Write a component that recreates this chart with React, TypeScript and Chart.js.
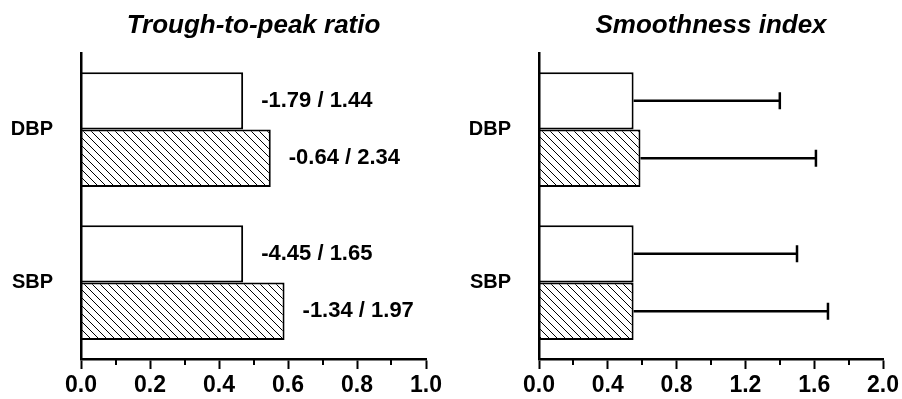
import React, { useEffect, useRef } from "react";
import { Chart, registerables } from "chart.js";

Chart.register(...registerables);

// ---------- data ----------
const categories = ["DBP", "SBP"];

const ratioTitle = "Trough-to-peak ratio";
const ratioOpen = [0.47, 0.47];
const ratioHatched = [0.55, 0.59];
const ratioLabelsOpen = ["-1.79 / 1.44", "-4.45 / 1.65"];
const ratioLabelsHatched = ["-0.64 / 2.34", "-1.34 / 1.97"];
const ratioMax = 1.0;
const ratioStep = 0.2;

const smoothTitle = "Smoothness index";
const smoothOpen = [0.55, 0.55];
const smoothHatched = [0.59, 0.55];
const smoothErrOpen = [1.4, 1.5];
const smoothErrHatched = [1.61, 1.68];
const smoothMax = 2.0;
const smoothStep = 0.4;

// ---------- styling ----------
const FONT = "'Liberation Sans', Arial, Helvetica, sans-serif";

function makeHatch(): CanvasPattern | string {
  const c = document.createElement("canvas");
  c.width = 8;
  c.height = 8;
  const g = c.getContext("2d");
  if (!g) return "#888";
  g.fillStyle = "#fff";
  g.fillRect(0, 0, 8, 8);
  g.strokeStyle = "#000";
  g.lineWidth = 1;
  g.beginPath();
  g.moveTo(0, 0);
  g.lineTo(8, 8);
  g.moveTo(-1, 7);
  g.lineTo(1, 9);
  g.moveTo(7, -1);
  g.lineTo(9, 1);
  g.stroke();
  return g.createPattern(c, "repeat") || "#888";
}

const panelTitle = {
  id: "panelTitle",
  afterDraw(chart: any, _a: any, opts: any) {
    const { ctx, chartArea } = chart;
    ctx.save();
    ctx.font = `italic bold 26px ${FONT}`;
    ctx.fillStyle = "#000";
    ctx.textAlign = "center";
    ctx.textBaseline = "alphabetic";
    ctx.fillText(opts.text, (chartArea.left + chartArea.right) / 2, 33);
    ctx.restore();
  },
};

const minorTicks = {
  id: "minorTicks",
  afterDraw(chart: any, _a: any, opts: any) {
    const s = chart.scales.x;
    const ctx = chart.ctx;
    ctx.save();
    ctx.strokeStyle = "#000";
    ctx.lineWidth = 2;
    for (let v = s.min + opts.step; v < s.max; v += opts.step * 2) {
      const x = Math.round(s.getPixelForValue(v));
      ctx.beginPath();
      ctx.moveTo(x, s.top);
      ctx.lineTo(x, s.top + 6);
      ctx.stroke();
    }
    ctx.restore();
  },
};

const valueLabels = {
  id: "valueLabels",
  afterDatasetsDraw(chart: any, _a: any, opts: any) {
    if (!opts.labels) return;
    const ctx = chart.ctx;
    ctx.save();
    ctx.font = `bold 22px ${FONT}`;
    ctx.fillStyle = "#000";
    ctx.textAlign = "left";
    ctx.textBaseline = "middle";
    chart.data.datasets.forEach((_ds: any, di: number) => {
      const meta = chart.getDatasetMeta(di);
      meta.data.forEach((bar: any, i: number) => {
        const txt = opts.labels[di][i];
        if (txt) ctx.fillText(txt, bar.x + 18, bar.y);
      });
    });
    ctx.restore();
  },
};

const errorBars = {
  id: "errorBars",
  afterDatasetsDraw(chart: any, _a: any, opts: any) {
    if (!opts.values) return;
    const ctx = chart.ctx;
    const xs = chart.scales.x;
    ctx.save();
    ctx.strokeStyle = "#000";
    ctx.lineWidth = 2.5;
    chart.data.datasets.forEach((_ds: any, di: number) => {
      const meta = chart.getDatasetMeta(di);
      meta.data.forEach((bar: any, i: number) => {
        const v = opts.values[di][i];
        const xe = xs.getPixelForValue(v);
        ctx.beginPath();
        ctx.moveTo(bar.x, bar.y);
        ctx.lineTo(xe, bar.y);
        ctx.moveTo(xe, bar.y - 8.5);
        ctx.lineTo(xe, bar.y + 8.5);
        ctx.stroke();
      });
    });
    ctx.restore();
  },
};

type PanelProps = {
  title: string;
  open: number[];
  hatched: number[];
  max: number;
  step: number;
  yWidth: number;
  rightPad: number;
  labels?: string[][];
  errors?: number[][];
};

function Panel(p: PanelProps) {
  const ref = useRef<HTMLCanvasElement | null>(null);
  useEffect(() => {
    if (!ref.current) return;
    const hatch = makeHatch();
    const chart = new Chart(ref.current, {
      type: "bar",
      data: {
        labels: categories,
        datasets: [
          {
            data: p.open,
            backgroundColor: "#fff",
            borderColor: "#000",
            borderWidth: 2,
          },
          {
            data: p.hatched,
            backgroundColor: hatch as any,
            borderColor: "#000",
            borderWidth: 2,
          },
        ],
      },
      plugins: [panelTitle, minorTicks, valueLabels, errorBars],
      options: {
        indexAxis: "y",
        responsive: false,
        animation: false,
        layout: { padding: { top: 53, right: p.rightPad, bottom: 0, left: 0 } },
        datasets: { bar: { categoryPercentage: 0.75, barPercentage: 1 } },
        plugins: {
          legend: { display: false },
          tooltip: { enabled: false },
          title: { display: false },
          panelTitle: { text: p.title },
          minorTicks: { step: p.step / 2 },
          valueLabels: { labels: p.labels },
          errorBars: { values: p.errors },
        } as any,
        scales: {
          x: {
            type: "linear",
            min: 0,
            max: p.max,
            position: "bottom",
            ticks: {
              stepSize: p.step,
              autoSkip: false,
              maxRotation: 0,
              padding: 3,
              color: "#000",
              font: { family: FONT, size: 23, weight: "bold" },
              callback: (v: any) => Number(v).toFixed(1),
            },
            grid: {
              drawOnChartArea: false,
              drawTicks: true,
              tickLength: 10,
              tickWidth: 2,
              tickColor: "#000",
            },
            border: { display: true, color: "#000", width: 2.5, z: 2 },
            afterFit: (s: any) => {
              s.height = 40;
            },
          },
          y: {
            type: "category",
            ticks: {
              padding: 28,
              color: "#000",
              font: { family: FONT, size: 20, weight: "bold" },
            },
            grid: { display: false, drawTicks: false },
            border: { display: true, color: "#000", width: 2.5, z: 2 },
            afterFit: (s: any) => {
              s.width = p.yWidth;
            },
          },
        },
      } as any,
    });
    return () => chart.destroy();
  }, []);
  return (
    <canvas
      ref={ref}
      width={451}
      height={399}
      style={{ display: "block", width: 451, height: 399 }}
    />
  );
}

export default function App() {
  return (
    <div
      style={{
        position: "fixed",
        left: 0,
        top: 0,
        width: 902,
        height: 399,
        display: "flex",
        background: "#fff",
      }}
    >
      <Panel
        title={ratioTitle}
        open={ratioOpen}
        hatched={ratioHatched}
        max={ratioMax}
        step={ratioStep}
        yWidth={81}
        rightPad={25}
        labels={[ratioLabelsOpen, ratioLabelsHatched]}
      />
      <Panel
        title={smoothTitle}
        open={smoothOpen}
        hatched={smoothHatched}
        max={smoothMax}
        step={smoothStep}
        yWidth={88}
        rightPad={18}
        errors={[smoothErrOpen, smoothErrHatched]}
      />
    </div>
  );
}
